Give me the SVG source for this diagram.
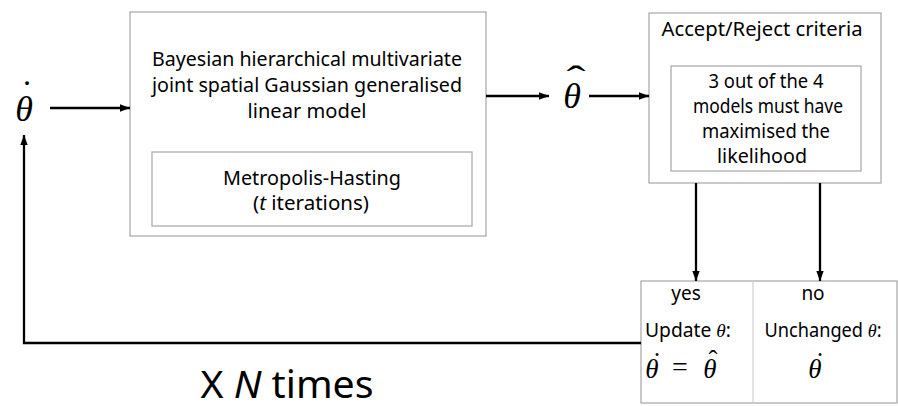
<svg xmlns="http://www.w3.org/2000/svg" width="898" height="406" viewBox="0 0 898 406">
<style>
.box{fill:#fff;stroke:#a6a6a6;stroke-width:1.2}
.t{font-family:"Noto Sans","Open Sans","Liberation Sans",sans-serif;font-size:19px;fill:#000}
.m{font-family:"Liberation Serif","DejaVu Serif",serif;font-style:italic;fill:#000}
.acc{font-family:"Liberation Serif","DejaVu Serif",serif;fill:#000;text-anchor:middle}
.c{fill:none;stroke:#000;stroke-width:2.3}
</style>
<defs>
<marker id="ah" markerUnits="userSpaceOnUse" markerWidth="10" markerHeight="10" viewBox="0 0 10 10" refX="10" refY="5" orient="auto">
<path d="M0,1.3 L10,5 L0,8.7 Z" fill="#000"/>
</marker>
</defs>
<rect width="898" height="406" fill="#fff"/>

<g id="theta-dot-in">
<text class="m" x="24" y="121" style="font-size:36px" text-anchor="middle">θ</text>
<text class="acc" x="27" y="105" style="font-size:36px">˙</text>
</g>

<g id="model">
<rect class="box" x="130" y="12" width="356" height="224"/>
<text class="t" x="307" y="66" text-anchor="middle" textLength="310" lengthAdjust="spacingAndGlyphs">Bayesian hierarchical multivariate</text>
<text class="t" x="307" y="92" text-anchor="middle" textLength="310" lengthAdjust="spacingAndGlyphs">joint spatial Gaussian generalised</text>
<text class="t" x="307" y="118" text-anchor="middle" textLength="119" lengthAdjust="spacingAndGlyphs">linear model</text>
<g id="mh">
<rect class="box" x="152" y="152" width="320" height="74"/>
<text class="t" x="312" y="185" text-anchor="middle" textLength="178" lengthAdjust="spacingAndGlyphs">Metropolis-Hasting</text>
<text class="t" x="311" y="210" text-anchor="middle" textLength="116" lengthAdjust="spacingAndGlyphs">(<tspan font-style="italic">t</tspan> iterations)</text>
</g>
</g>

<g id="theta-hat">
<text class="m" x="572" y="108" style="font-size:36px" text-anchor="middle">θ</text>
<text class="acc" x="576" y="91" style="font-size:36px" textLength="19" lengthAdjust="spacingAndGlyphs">ˆ</text>
</g>

<g id="criteria">
<rect class="box" x="649" y="13" width="232" height="170"/>
<text class="t" x="762" y="36" text-anchor="middle" textLength="201" lengthAdjust="spacingAndGlyphs">Accept/Reject criteria</text>
<g id="rule">
<rect class="box" x="671" y="66" width="190" height="105"/>
<text class="t" x="766" y="88" text-anchor="middle" textLength="115" lengthAdjust="spacingAndGlyphs">3 out of the 4</text>
<text class="t" x="768" y="113" text-anchor="middle" textLength="150" lengthAdjust="spacingAndGlyphs">models must have</text>
<text class="t" x="766" y="138" text-anchor="middle" textLength="128" lengthAdjust="spacingAndGlyphs">maximised the</text>
<text class="t" x="762" y="163" text-anchor="middle" textLength="90" lengthAdjust="spacingAndGlyphs">likelihood</text>
</g>
</g>

<g id="outcome">
<rect class="box" x="641" y="281" width="256" height="122"/>
<line x1="753" y1="281" x2="753" y2="403" stroke="#d0d0d0" stroke-width="1.2"/>
<text class="t" x="686" y="300" text-anchor="middle">yes</text>
<text class="t" x="813" y="300" text-anchor="middle">no</text>
<text class="t" x="645" y="337" textLength="86" lengthAdjust="spacingAndGlyphs">Update <tspan class="m">θ</tspan>:</text>
<text class="t" x="823" y="337" text-anchor="middle" textLength="117" lengthAdjust="spacingAndGlyphs">Unchanged <tspan class="m">θ</tspan>:</text>
<text class="m" x="652" y="378" style="font-size:27px" text-anchor="middle">θ</text>
<text class="acc" x="657" y="371" style="font-size:27px">˙</text>
<text class="acc" x="680" y="376" style="font-size:28px">=</text>
<text class="m" x="710" y="378" style="font-size:27px" text-anchor="middle">θ</text>
<text class="acc" x="713" y="369" style="font-size:27px">ˆ</text>
<text class="m" x="815" y="378" style="font-size:27px" text-anchor="middle">θ</text>
<text class="acc" x="820" y="371" style="font-size:27px">˙</text>
</g>

<g id="connectors">
<line class="c" x1="50" y1="108" x2="130" y2="108" marker-end="url(#ah)"/>
<line class="c" x1="486" y1="96" x2="549" y2="96" marker-end="url(#ah)"/>
<line class="c" x1="589" y1="96" x2="649" y2="96" marker-end="url(#ah)"/>
<line class="c" x1="696" y1="183" x2="696" y2="281" marker-end="url(#ah)"/>
<line class="c" x1="820" y1="183" x2="820" y2="281" marker-end="url(#ah)"/>
<path class="c" d="M641,343 H24 V135" marker-end="url(#ah)"/>
</g>

<g id="repeat-label">
<text class="t" x="287" y="398" style="font-size:39px" text-anchor="middle" textLength="173" lengthAdjust="spacingAndGlyphs">X <tspan font-style="italic">N</tspan> times</text>
</g>
</svg>
